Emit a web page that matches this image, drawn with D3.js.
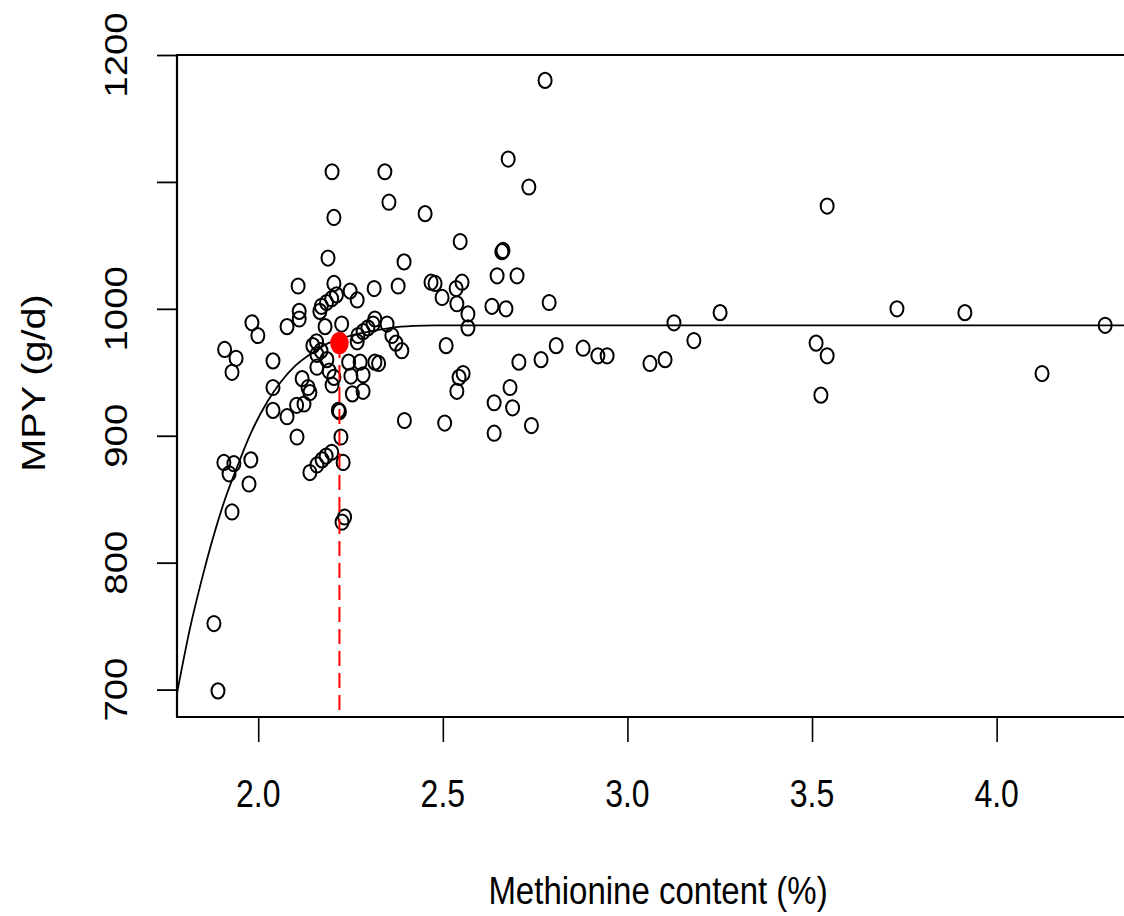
<!DOCTYPE html>
<html>
<head>
<meta charset="utf-8">
<script src="https://cdn.jsdelivr.net/npm/d3@7"></script>
<style>
  body { margin: 0; background: #fff; }
  svg { display: block; }
  text { font-family: "Liberation Sans", Arial, sans-serif; fill: #000; }
</style>
</head>
<body>
<div id="chart"></div>
<script>
const methionine = [
  2.777, 2.677, 2.733, 2.343, 2.200, 2.354, 2.205, 2.452, 3.541, 2.547,
  2.189, 2.395, 2.660, 2.663, 2.647, 2.701, 2.108, 2.205, 2.249, 2.268,
  2.314, 2.379, 2.468, 2.479, 2.552, 2.536, 2.498, 2.538, 2.568, 2.568,
  2.633, 2.671, 2.788, 2.509, 2.807, 2.880, 2.920, 2.945, 2.766, 2.706,
  2.555, 2.544, 2.538, 2.682, 2.639, 2.689, 2.505, 2.740, 2.639, 3.061,
  3.102, 3.126, 3.180, 3.251, 3.511, 3.541, 3.524, 3.730, 3.914, 4.123,
  4.294, 1.983, 1.999, 2.078, 2.111, 2.111, 1.909, 1.940, 1.929, 2.040,
  2.040, 2.040, 2.078, 2.104, 2.124, 2.119, 2.135, 2.140, 2.105, 2.140,
  2.159, 2.173, 2.184, 2.199, 1.907, 1.934, 1.921, 1.980, 1.975, 1.929,
  1.880, 1.891, 2.217, 2.220, 2.224, 2.230, 2.234, 2.227, 2.396, 2.148,
  2.159, 2.170, 2.159, 2.186, 2.192, 2.205, 2.200, 2.245, 2.276, 2.316,
  2.326, 2.251, 2.284, 2.255, 2.284, 2.171, 2.185, 2.199, 2.212, 2.167,
  2.181, 2.226, 2.158, 2.270, 2.284, 2.297, 2.311, 2.316, 2.268, 2.349,
  2.362, 2.373, 2.389
];
const mpy = [
  1180, 1118, 1096, 1108, 1108, 1084, 1072, 1075, 1081, 1053,
  1040, 1037, 1045, 1046, 1026, 1026, 1018, 1020, 1014, 1007,
  1016, 1018, 1021, 1020, 1021, 1016, 1009, 1004, 996, 985,
  1002, 1000, 1005, 971, 971, 969, 963, 963, 960, 958,
  949, 946, 935, 938, 926, 922, 910, 908, 902, 957,
  960, 989, 975, 997, 973, 963, 932, 1000, 997, 949,
  987, 989, 979, 986, 998, 992, 968, 961, 950, 959,
  938, 920, 915, 924, 925, 945, 938, 934, 899, 871,
  877, 881, 884, 887, 879, 878, 870, 881, 862, 840,
  752, 699, 920, 919, 899, 879, 836, 832, 912, 971,
  964, 967, 954, 960, 951, 946, 940, 958, 958, 958,
  957, 947, 948, 933, 935, 1002, 1005, 1008, 1011, 998,
  986, 988, 974, 979, 982, 985, 988, 992, 974, 988,
  979, 973, 967
];

// fitted response curve
const curveX = [1.78, 1.815, 1.85, 1.88, 1.91, 1.945, 1.98, 2.025, 2.06, 2.10, 2.15, 2.19, 2.24, 2.30, 2.36, 2.42, 2.48, 4.345];
const curveY = [697, 748, 790, 822, 850, 877, 902, 927, 942, 955, 966, 973, 978, 982, 985, 986.5, 987, 987];

// optimum marked in red
const optimumX = [2.22];
const optimumY = [973];

const xTicks = [2.0, 2.5, 3.0, 3.5, 4.0];
const xTickLabels = ["2.0", "2.5", "3.0", "3.5", "4.0"];
const yTicks = [700, 800, 900, 1000, 1100, 1200];
const yTickLabels = ["700", "800", "900", "1000", "", "1200"];

const width = 1124, height = 916;
const box = { left: 177, top: 55, right: 1124, bottom: 717 };
const stretch = 1.2; // the original picture is taller than wide

const x = d3.scaleLinear().domain([1.78, 4.345]).range([box.left, box.right]);
const y = d3.scaleLinear().domain([678.4, 1200]).range([box.bottom, box.top]);

const svg = d3.select("#chart").append("svg")
  .attr("width", width)
  .attr("height", height);

// ticks
svg.append("g")
  .attr("transform", "translate(0," + box.bottom + ")")
  .call(d3.axisBottom(x).tickValues(xTicks).tickSize(25).tickSizeOuter(0).tickFormat(""))
  .call(g => g.select(".domain").remove())
  .call(g => g.selectAll("line").attr("stroke-width", 1.6));

svg.append("g")
  .attr("transform", "translate(" + box.left + ",0)")
  .call(d3.axisLeft(y).tickValues(yTicks).tickSize(20).tickSizeOuter(0).tickFormat(""))
  .call(g => g.select(".domain").remove())
  .call(g => g.selectAll("line").attr("stroke-width", 1.8));

// tick labels
svg.append("g").selectAll("text")
  .data(xTicks)
  .join("text")
  .attr("transform", d => "translate(" + x(d) + ",807) scale(1," + stretch + ")")
  .attr("text-anchor", "middle")
  .style("font-size", "32px")
  .text((d, i) => xTickLabels[i]);

svg.append("g").selectAll("text")
  .data(yTicks)
  .join("text")
  .attr("transform", d => "translate(127," + y(d) + ") scale(1," + stretch + ") rotate(-90)")
  .attr("text-anchor", "middle")
  .style("font-size", "32px")
  .text((d, i) => yTickLabels[i]);

// axis titles
svg.append("text")
  .attr("transform", "translate(658,904) scale(1," + stretch + ")")
  .attr("text-anchor", "middle")
  .style("font-size", "33px")
  .text("Methionine content (%)");

svg.append("text")
  .attr("transform", "translate(45,383) scale(1," + stretch + ") rotate(-90)")
  .attr("text-anchor", "middle")
  .style("font-size", "33px")
  .text("MPY (g/d)");

// points
const points = methionine.map((m, i) => ({ x: m, y: mpy[i] }));
svg.append("g").selectAll("ellipse")
  .data(points)
  .join("ellipse")
  .attr("cx", d => x(d.x))
  .attr("cy", d => y(d.y))
  .attr("rx", 6.5)
  .attr("ry", 7.6)
  .attr("fill", "none")
  .attr("stroke", "#000")
  .attr("stroke-width", 2);

// response curve
const line = d3.line()
  .x(d => x(d[0]))
  .y(d => y(d[1]))
  .curve(d3.curveMonotoneX);

svg.append("path")
  .datum(curveX.map((c, i) => [c, curveY[i]]))
  .attr("d", line)
  .attr("fill", "none")
  .attr("stroke", "#000")
  .attr("stroke-width", 1.8);

// optimum: dashed drop line and red dot
svg.append("line")
  .attr("x1", x(optimumX[0]))
  .attr("x2", x(optimumX[0]))
  .attr("y1", y(optimumY[0]))
  .attr("y2", box.bottom)
  .attr("stroke", "#ff0000")
  .attr("stroke-width", 2)
  .attr("stroke-dasharray", "15,7");

svg.append("ellipse")
  .attr("cx", x(optimumX[0]))
  .attr("cy", y(optimumY[0]))
  .attr("rx", 9.3)
  .attr("ry", 11)
  .attr("fill", "#ff0000");

// plot frame (right side is cut off in the original)
svg.append("path")
  .attr("d", "M" + box.right + "," + box.top + "H" + box.left + "V" + box.bottom + "H" + box.right)
  .attr("fill", "none")
  .attr("stroke", "#000")
  .attr("stroke-width", 2.2);
</script>
</body>
</html>
